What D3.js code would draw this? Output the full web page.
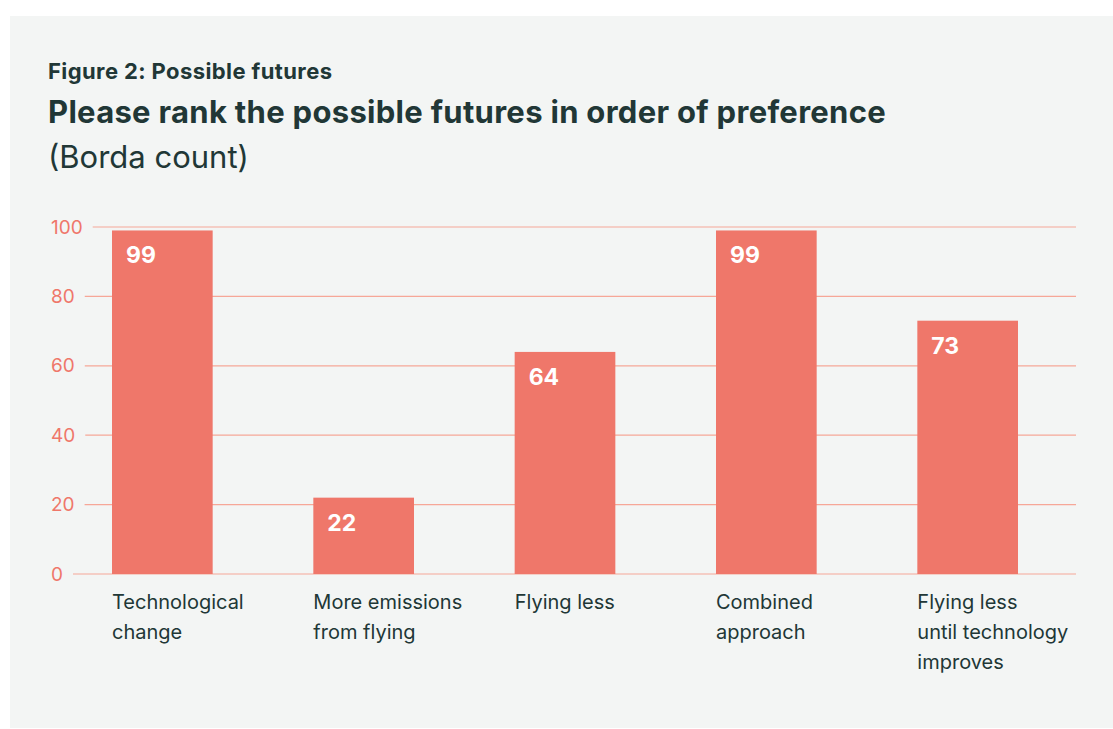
<!DOCTYPE html>
<html>
<head>
<meta charset="utf-8">
<script src="https://cdn.jsdelivr.net/npm/d3@7"></script>
<style>
  body { margin: 0; background: #fff; font-family: Inter, "Noto Sans", sans-serif; }
</style>
</head>
<body>
<svg width="1113" height="729"></svg>
<script>
// data
var categories = [
  ["Technological", "change"],
  ["More emissions", "from flying"],
  ["Flying less"],
  ["Combined", "approach"],
  ["Flying less", "until technology", "improves"]
];
var values = [99, 22, 64, 99, 73];
var yTicks = [0, 20, 40, 60, 80, 100];

var svg = d3.select("svg");
var barColor = "#ef776a",
    gridColor = "#f6a798",
    textColor = "#213736";

// panel
svg.append("rect")
    .attr("x", 10).attr("y", 16)
    .attr("width", 1103).attr("height", 712)
    .attr("fill", "#f3f5f4");

// titles
svg.append("text")
    .attr("x", 48).attr("y", 79)
    .attr("fill", textColor)
    .style("font-size", "22px").style("font-weight", 700)
    .style("letter-spacing", "0.4px")
    .text("Figure 2: Possible futures");
svg.append("text")
    .attr("x", 48).attr("y", 123)
    .attr("fill", textColor)
    .style("font-size", "31px").style("font-weight", 700)
    .style("letter-spacing", "0.3px")
    .text("Please rank the possible futures in order of preference");
svg.append("text")
    .attr("x", 48).attr("y", 168)
    .attr("fill", textColor)
    .style("font-size", "31px").style("font-weight", 400)
    .text("(Borda count)");

var x = d3.scaleBand()
    .domain(d3.range(values.length))
    .range([112, 1018])
    .paddingInner(0.5)
    .paddingOuter(0);

var y = d3.scaleLinear()
    .domain([0, 100])
    .range([574, 227]);

// gridlines + tick labels
var ticks = svg.append("g").selectAll("g")
    .data(yTicks)
    .enter().append("g");

ticks.append("text")
    .attr("x", 51)
    .attr("y", function(d) { return y(d); })
    .attr("dy", "0.35em")
    .attr("fill", barColor)
    .style("font-size", "19px")
    .text(function(d) { return d; });

ticks.each(function(d) {
    var t = d3.select(this).select("text").node();
    var w = t.getComputedTextLength();
    d3.select(this).insert("line", "text")
        .attr("x1", 51 + w + 10)
        .attr("x2", 1076)
        .attr("y1", y(d)).attr("y2", y(d))
        .attr("stroke", gridColor)
        .attr("stroke-width", 1.2);
});

// bars
svg.append("g").selectAll("rect")
    .data(values)
    .enter().append("rect")
    .attr("x", function(d, i) { return x(i); })
    .attr("y", function(d) { return y(d); })
    .attr("width", x.bandwidth())
    .attr("height", function(d) { return y(0) - y(d); })
    .attr("fill", barColor);

// value labels
svg.append("g").selectAll("text")
    .data(values)
    .enter().append("text")
    .attr("x", function(d, i) { return x(i) + 14; })
    .attr("y", function(d) { return y(d) + 33; })
    .attr("fill", "#fff")
    .style("font-size", "23px").style("font-weight", 700)
    .text(function(d) { return d; });

// category labels
var cat = svg.append("g").selectAll("text")
    .data(categories)
    .enter().append("text")
    .attr("x", function(d, i) { return x(i); })
    .attr("y", 609)
    .attr("fill", textColor)
    .style("font-size", "20px");

cat.selectAll("tspan")
    .data(function(d) { return d; })
    .enter().append("tspan")
    .attr("x", function() { return d3.select(this.parentNode).attr("x"); })
    .attr("dy", function(d, j) { return j === 0 ? 0 : 30; })
    .text(function(d) { return d; });
</script>
</body>
</html>
